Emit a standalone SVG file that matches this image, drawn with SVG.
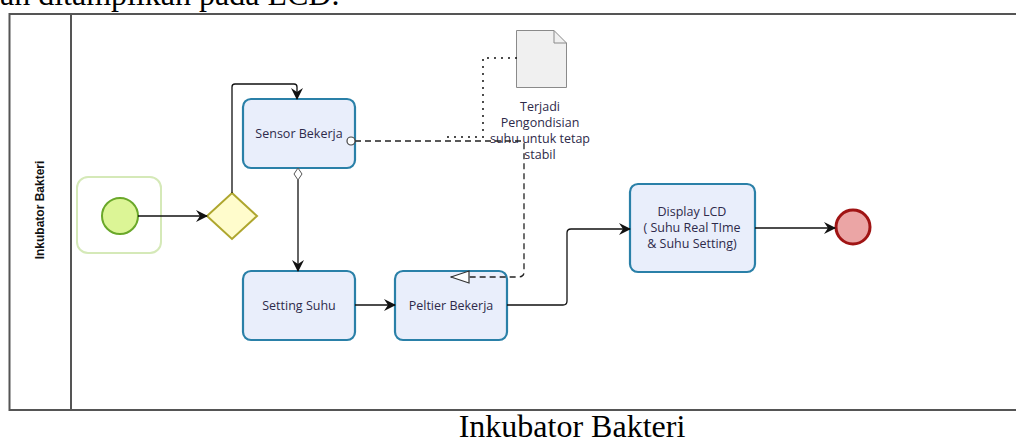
<svg xmlns="http://www.w3.org/2000/svg" width="1016" height="443" viewBox="0 0 1016 443">
<style>
.task{fill:#e9eefb;stroke:#2a80a8;stroke-width:2.2}
.tt{font-family:"Open Sans","DejaVu Sans",sans-serif;font-size:12.5px;fill:#2e2a4a;text-anchor:middle}
.flow{fill:none;stroke:#111;stroke-width:1.3}
.serif{font-family:"Liberation Serif","Times New Roman",serif;fill:#000}
</style>
<defs>
<marker id="arr" viewBox="0 0 12 12" refX="11" refY="6" markerWidth="12" markerHeight="12" markerUnits="userSpaceOnUse" orient="auto">
<path d="M0,0 L12,6 L0,12 L4,6 Z" fill="#111"/>
</marker>
<marker id="open" viewBox="0 0 20 14" refX="19" refY="7" markerWidth="20" markerHeight="14" markerUnits="userSpaceOnUse" orient="auto">
<path d="M1,1 L19,7 L1,13 Z" fill="#fff" stroke="#333" stroke-width="1.2"/>
</marker>
</defs>
<rect width="1016" height="443" fill="#fff"/>
<text class="serif" x="0" y="5" font-size="32">an ditampilkan pada LCD.</text>
<g id="pool">
<path d="M1016,14 H9.5 V410 H1016" fill="none" stroke="#555" stroke-width="2"/>
<line x1="71" y1="14" x2="71" y2="410" stroke="#555" stroke-width="2"/>
<text transform="translate(44,210) rotate(-90)" text-anchor="middle" font-family="Liberation Sans Narrow,Liberation Sans,sans-serif" font-weight="bold" font-size="12" fill="#111">Inkubator Bakteri</text>
</g>
<g id="start">
<rect x="77" y="177" width="84" height="76" rx="11" fill="#fff" stroke="#d5e9b8" stroke-width="2"/>
<circle cx="120" cy="216" r="18" fill="#dcf596" stroke="#6aa82a" stroke-width="2"/>
</g>
<g id="gateway">
<path d="M232,193 L257,216 L232,239 L207,216 Z" fill="#fffccc" stroke="#aea62e" stroke-width="2"/>
</g>
<g id="sensor">
<rect class="task" x="243" y="99" width="112" height="69" rx="8"/>
<text class="tt" x="299" y="138">Sensor Bekerja</text>
</g>
<g id="setting">
<rect class="task" x="243" y="271" width="112" height="69" rx="8"/>
<text class="tt" x="299" y="310">Setting Suhu</text>
</g>
<g id="peltier">
<rect class="task" x="395" y="271" width="112" height="69" rx="8"/>
<text class="tt" x="451" y="310">Peltier Bekerja</text>
</g>
<g id="display">
<rect class="task" x="630" y="184" width="125" height="88" rx="8"/>
<text class="tt" x="692" y="216">Display LCD</text>
<text class="tt" x="692" y="232">( Suhu Real TIme</text>
<text class="tt" x="692" y="248">&amp; Suhu Setting)</text>
</g>
<g id="end">
<circle cx="853" cy="227" r="17" fill="#eba5a5" stroke="#a01414" stroke-width="3"/>
</g>
<g id="document">
<path d="M516.5,30.5 H554 L566.5,43 V87.5 H516.5 Z" fill="#f0f0f0" stroke="#8a8a8a" stroke-width="1"/>
<path d="M554,30.5 V43 H566.5" fill="none" stroke="#8a8a8a" stroke-width="1"/>
<text class="tt" x="540" y="111">Terjadi</text>
<text class="tt" x="540" y="127">Pengondisian</text>
<text class="tt" x="540" y="143">suhu untuk tetap</text>
<text class="tt" x="540" y="159">stabil</text>
</g>
<g id="connectors">
<line class="flow" x1="138" y1="216" x2="207" y2="216" marker-end="url(#arr)"/>
<path class="flow" d="M232,193 V87 Q232,84 235,84 H294 Q297,84 297,87 V99" marker-end="url(#arr)"/>
<path d="M298,168 L302,174 L298,180 L294,174 Z" fill="#fff" stroke="#555" stroke-width="1"/>
<line class="flow" x1="298" y1="180" x2="298" y2="271" marker-end="url(#arr)"/>
<line class="flow" x1="355" y1="305" x2="395" y2="305" marker-end="url(#arr)"/>
<path class="flow" d="M507,305 H563 Q567,305 567,301 V233 Q567,229 571,229 H630" marker-end="url(#arr)"/>
<line class="flow" x1="755" y1="228" x2="835" y2="228" marker-end="url(#arr)"/>
<path d="M355,141 H521 Q524,141 524,144 V272 Q524,277 519,277 H451" fill="none" stroke="#222" stroke-width="1.3" stroke-dasharray="6,4" marker-end="url(#open)"/>
<circle cx="351" cy="141" r="4" fill="#fff" stroke="#444" stroke-width="1.2"/>
<path d="M516,58 H483 V137 H445" fill="none" stroke="#111" stroke-width="2" stroke-linecap="round" stroke-dasharray="0,7"/>
</g>
<text class="serif" x="572" y="437" font-size="32" text-anchor="middle">Inkubator Bakteri</text>
</svg>
